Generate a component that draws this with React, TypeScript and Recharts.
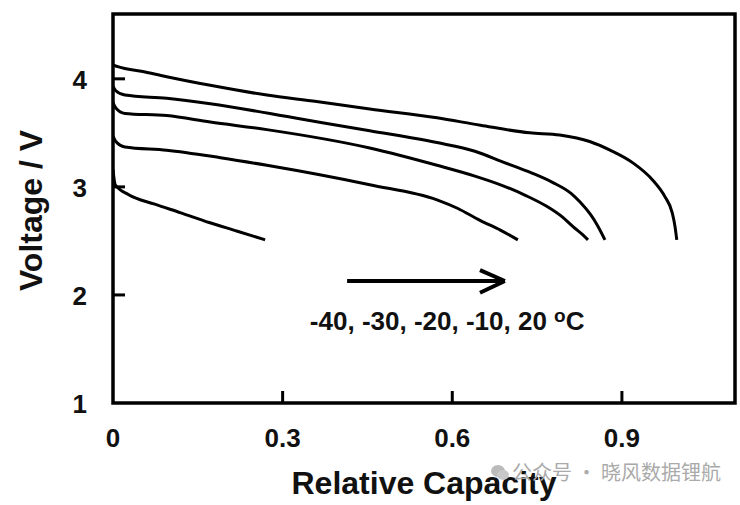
import React from 'react';
import {
  LineChart, Line, XAxis, YAxis, ReferenceArea, ReferenceLine, ReferenceDot, Label,
} from 'recharts';

// Relative capacity (x) and voltage (y)
const cap20 = [0, 0.01, 0.05, 0.095, 0.172, 0.272, 0.36, 0.454, 0.573, 0.65, 0.737, 0.79, 0.843, 0.879, 0.92, 0.955, 0.976, 0.989, 0.994, 0.997];
const volt20 = [4.13, 4.11, 4.07, 4.02, 3.94, 3.85, 3.79, 3.72, 3.64, 3.57, 3.5, 3.48, 3.42, 3.34, 3.22, 3.06, 2.91, 2.76, 2.63, 2.51];

const capM10 = [0, 0.005, 0.021, 0.095, 0.172, 0.33, 0.454, 0.573, 0.64, 0.69, 0.74, 0.778, 0.81, 0.826, 0.845, 0.856, 0.87];
const voltM10 = [3.93, 3.89, 3.85, 3.82, 3.77, 3.63, 3.52, 3.41, 3.33, 3.23, 3.13, 3.04, 2.94, 2.86, 2.74, 2.65, 2.51];

const capM20 = [0, 0.005, 0.021, 0.095, 0.172, 0.272, 0.454, 0.573, 0.64, 0.69, 0.73, 0.767, 0.795, 0.814, 0.83, 0.84];
const voltM20 = [3.78, 3.73, 3.68, 3.66, 3.6, 3.53, 3.36, 3.2, 3.1, 3.01, 2.92, 2.82, 2.72, 2.63, 2.56, 2.51];

const capM30 = [0, 0.005, 0.021, 0.095, 0.19, 0.272, 0.454, 0.573, 0.61, 0.649, 0.685, 0.716];
const voltM30 = [3.47, 3.42, 3.37, 3.34, 3.27, 3.2, 3.02, 2.88, 2.8, 2.69, 2.6, 2.51];

const capM40 = [0, 0.004, 0.027, 0.074, 0.12, 0.17, 0.22, 0.269];
const voltM40 = [3.16, 3.02, 2.93, 2.84, 2.76, 2.67, 2.59, 2.51];

const xTicks = [0, 0.3, 0.6, 0.9];
const yTicks = [1, 2, 3, 4];
const xDomain = [0, 1.1];
const yDomain = [1, 4.6];

const annotation = '-40, -30, -20, -10, 20 ';

const zip = (xs: number[], ys: number[]) => xs.map((x, i) => ({ x, y: ys[i] }));

const series = [
  zip(cap20, volt20),
  zip(capM10, voltM10),
  zip(capM20, voltM20),
  zip(capM30, voltM30),
  zip(capM40, voltM40),
];

const FONT = '"Liberation Sans", Arial, Helvetica, sans-serif';

const XTick = (props: any) => {
  const { x, y, payload } = props;
  return (
    <g>
      {payload.value !== 0 && <line x1={x} y1={y} x2={x} y2={y - 12} stroke="#000" strokeWidth={3} />}
      <text x={x} y={y + 44} textAnchor="middle" fontFamily={FONT} fontWeight="bold" fontSize={26} fill="#111">
        {String(payload.value)}
      </text>
    </g>
  );
};

const YTick = (props: any) => {
  const { x, y, payload } = props;
  return (
    <g>
      {payload.value !== 1 && <line x1={x} y1={y} x2={x + 12} y2={y} stroke="#000" strokeWidth={3} />}
      <text x={x - 26} y={y + 10} textAnchor="end" fontFamily={FONT} fontWeight="bold" fontSize={26} fill="#111">
        {String(payload.value)}
      </text>
    </g>
  );
};

const YTitle = (props: any) => {
  const vb = props.viewBox || { x: 0, y: 0, width: 0, height: 0 };
  const cy = vb.y + vb.height / 2 + 2;
  return (
    <text transform={`translate(42,${cy}) rotate(-90)`} textAnchor="middle" fontFamily={FONT} fontWeight="bold" fontSize={32} fill="#111">
      Voltage / V
    </text>
  );
};

const XTitle = (props: any) => {
  const vb = props.viewBox || { x: 0, y: 0, width: 0, height: 0 };
  const cx = vb.x + vb.width / 2;
  return (
    <text x={cx} y={vb.y + 91} textAnchor="middle" fontFamily={FONT} fontWeight="bold" fontSize={32} fill="#111">
      Relative Capacity
    </text>
  );
};

const AnnotationText = (props: any) => {
  const vb = props.viewBox || { x: 0, y: 0, width: 0, height: 0 };
  const cx = vb.x + (vb.width || 0) / 2;
  const cy = vb.y + (vb.height || 0) / 2;
  return (
    <text x={cx} y={cy} textAnchor="middle" fontFamily={FONT} fontWeight="bold" fontSize={26} fill="#111">
      <tspan>{annotation}</tspan>
      <tspan dy={-8} fontSize={19}>o</tspan>
      <tspan dy={8}>C</tspan>
    </text>
  );
};

export default function App() {
  return (
    <div style={{ position: 'absolute', left: 0, top: 0, width: 740, height: 505, background: '#fff' }}>
      <LineChart width={740} height={505} margin={{ top: 14, right: 5, bottom: 0, left: 0 }}>
        <XAxis
          type="number"
          dataKey="x"
          domain={xDomain}
          ticks={xTicks}
          allowDataOverflow
          axisLine={false}
          tickLine={false}
          tickSize={0}
          tickMargin={0}
          height={102}
          tick={<XTick />}
        >
          <Label content={<XTitle />} />
        </XAxis>
        <YAxis
          type="number"
          dataKey="y"
          domain={yDomain}
          ticks={yTicks}
          allowDataOverflow
          axisLine={false}
          tickLine={false}
          tickSize={0}
          tickMargin={0}
          width={113}
          tick={<YTick />}
        >
          <Label content={<YTitle />} />
        </YAxis>
        <ReferenceArea x1={xDomain[0]} x2={xDomain[1]} y1={yDomain[0]} y2={yDomain[1]} fill="none" fillOpacity={0} stroke="#000" strokeWidth={3.5} />
        {series.map((d, i) => (
          <Line
            key={i}
            data={d}
            dataKey="y"
            type="monotone"
            stroke="#000"
            strokeWidth={3}
            dot={false}
            activeDot={false}
            isAnimationActive={false}
          />
        ))}
        <ReferenceLine segment={[{ x: 0.414, y: 2.129 }, { x: 0.693, y: 2.129 }]} stroke="#000" strokeWidth={4} />
        <ReferenceLine segment={[{ x: 0.649, y: 2.23 }, { x: 0.693, y: 2.129 }]} stroke="#000" strokeWidth={4} />
        <ReferenceLine segment={[{ x: 0.649, y: 2.02 }, { x: 0.693, y: 2.129 }]} stroke="#000" strokeWidth={4} />
        <ReferenceDot x={0.591} y={1.676} r={1} fill="none" stroke="none" label={<AnnotationText />} />
      </LineChart>
      <div
        style={{
          position: 'absolute',
          left: 490,
          top: 458,
          display: 'flex',
          alignItems: 'center',
          fontFamily: '"Noto Sans CJK SC", sans-serif',
          fontSize: 20,
          color: '#aaa',
          lineHeight: '28px',
          whiteSpace: 'nowrap',
        }}
      >
        <svg width={20} height={20} style={{ marginRight: 2 }}>
          <ellipse cx={8} cy={9} rx={7} ry={6} fill="#bbb" />
          <ellipse cx={13} cy={13} rx={6} ry={5} fill="#c8c8c8" />
        </svg>
        <span>公众号 · 晓风数据锂航</span>
      </div>
    </div>
  );
}
